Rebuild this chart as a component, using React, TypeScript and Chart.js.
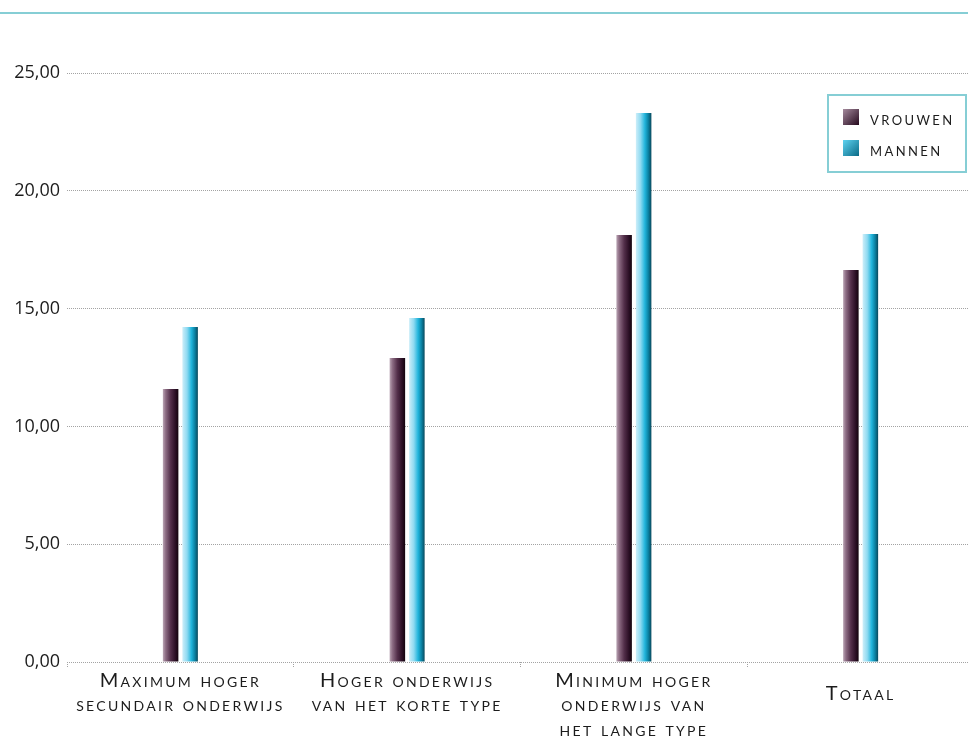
import React, { useEffect, useRef } from 'react';
import { Chart, registerables } from 'chart.js';

Chart.register(...registerables);

// ---- data ----
const categories: string[][] = [
  ['Maximum hoger', 'secundair onderwijs'],
  ['Hoger onderwijs', 'van het korte type'],
  ['Minimum hoger', 'onderwijs van', 'het lange type'],
  ['Totaal'],
];
const seriesNames = ['vrouwen', 'mannen'];
const vrouwen = [11.59, 12.9, 18.12, 16.64];
const mannen = [14.22, 14.6, 23.3, 18.17];
const yMin = 0;
const yMax = 25;
const yStep = 5;

// ---- styles ----
const barStops: [number, string][][] = [
  [
    [0, '#bba6b5'],
    [0.18, '#8d6d84'],
    [0.5, '#532f4a'],
    [0.8, '#2c1026'],
    [1, '#12030d'],
  ],
  [
    [0, '#cdeef9'],
    [0.3, '#8fdaf1'],
    [0.58, '#22b5dc'],
    [0.8, '#0b82a3'],
    [1, '#09495c'],
  ],
];
const legendStops: [string, string][] = [
  ['#a58a9d', '#24081c'],
  ['#5fd3f1', '#0a6a86'],
];
const teal = '#86ced5';
const textColor = '#1c1c1c';
const gridColor = '#a3a3a3';

const decorPlugin = {
  id: 'decor',
  beforeDraw(chart: any) {
    const { ctx } = chart;
    ctx.save();
    ctx.fillStyle = '#ffffff';
    ctx.fillRect(0, 0, chart.width, chart.height);
    ctx.fillStyle = teal;
    ctx.fillRect(0, 12, chart.width, 2);
    ctx.restore();
    const xs = chart.scales.x;
    if (xs && !xs.__spaced) {
      const orig = xs.drawLabels.bind(xs);
      xs.drawLabels = (area: any) => {
        ctx.save();
        (ctx as any).letterSpacing = '2.3px';
        orig(area);
        ctx.restore();
      };
      xs.__spaced = true;
    }
  },
  beforeDatasetsDraw(chart: any) {
    const { ctx } = chart;
    chart.data.datasets.forEach((_ds: any, di: number) => {
      const meta = chart.getDatasetMeta(di);
      meta.data.forEach((el: any) => {
        const { x, width } = el.getProps(['x', 'width'], true);
        const left = x - width / 2;
        const g = ctx.createLinearGradient(left, 0, left + width, 0);
        barStops[di].forEach(([o, c]) => g.addColorStop(o, c));
        el.options = { ...el.options, backgroundColor: g };
      });
    });
  },
  afterDraw(chart: any) {
    const { ctx } = chart;
    const boxLeft = 828;
    const boxTop = 95;
    const boxRight = 966;
    const boxBottom = 172;
    ctx.save();
    ctx.fillStyle = '#ffffff';
    ctx.fillRect(boxLeft, boxTop, boxRight - boxLeft, boxBottom - boxTop);
    ctx.strokeStyle = teal;
    ctx.lineWidth = 2;
    ctx.strokeRect(boxLeft, boxTop, boxRight - boxLeft, boxBottom - boxTop);
    chart.data.datasets.forEach((ds: any, i: number) => {
      const sy = 109 + i * 31;
      const sx = 843;
      const g = ctx.createLinearGradient(sx, sy, sx + 16, sy + 16);
      g.addColorStop(0, legendStops[i][0]);
      g.addColorStop(1, legendStops[i][1]);
      ctx.fillStyle = g;
      ctx.fillRect(sx, sy, 16, 16);
      ctx.fillStyle = textColor;
      ctx.font = 'small-caps 18px Lato';
      (ctx as any).letterSpacing = '2.4px';
      ctx.textBaseline = 'alphabetic';
      ctx.textAlign = 'left';
      ctx.fillText(ds.label, 870, sy + 16);
    });
    ctx.restore();
  },
};

export default function App() {
  const ref = useRef<HTMLCanvasElement>(null);
  useEffect(() => {
    document.body.style.margin = '0';
    const canvas = ref.current!;
    const chart = new Chart(canvas, {
      type: 'bar',
      data: {
        labels: categories,
        datasets: [
          { label: seriesNames[0], data: vrouwen, backgroundColor: '#4a2942', borderWidth: 0 },
          { label: seriesNames[1], data: mannen, backgroundColor: '#1fb3db', borderWidth: 0 },
        ],
      },
      options: {
        responsive: false,
        animation: false,
        devicePixelRatio: 1,
        layout: { padding: { top: 73, right: 2, bottom: 0, left: 0 } },
        datasets: {
          bar: { categoryPercentage: 0.172, barPercentage: 0.795 },
        },
        plugins: {
          legend: { display: false },
          tooltip: { enabled: false },
          title: { display: false },
        },
        scales: {
          x: {
            grid: {
              display: true,
              drawOnChartArea: false,
              drawTicks: true,
              tickLength: 6,
              offset: true,
              tickColor: gridColor,
              tickBorderDash: [1, 1],
              color: gridColor,
            },
            border: { display: false },
            afterFit: (scale: any) => {
              scale.height = 74;
            },
            ticks: {
              color: textColor,
              padding: 0,
              maxRotation: 0,
              autoSkip: false,
              font: (c: any) => ({
                family: 'Lato',
                size: 20,
                weight: 'small-caps' as any,
                lineHeight: categories[c.index] && categories[c.index].length === 1 ? '51px' : '24.5px',
              }),
            },
          },
          y: {
            min: yMin,
            max: yMax,
            grid: {
              color: gridColor,
              drawTicks: false,
              lineWidth: 1,
            },
            border: { display: false, dash: [1, 1] },
            afterFit: (scale: any) => {
              scale.width = 67;
            },
            ticks: {
              stepSize: yStep,
              padding: 7,
              color: textColor,
              font: { family: 'Open Sans', size: 18 },
              callback: (v: any) => Number(v).toFixed(2).replace('.', ','),
            },
          },
        },
      },
      plugins: [decorPlugin],
    });
    return () => chart.destroy();
  }, []);
  return (
    <div style={{ position: 'fixed', left: 0, top: 0, width: 968, height: 736, overflow: 'hidden', background: '#fff' }}>
      <canvas ref={ref} width={976} height={736} style={{ display: 'block' }} />
    </div>
  );
}
